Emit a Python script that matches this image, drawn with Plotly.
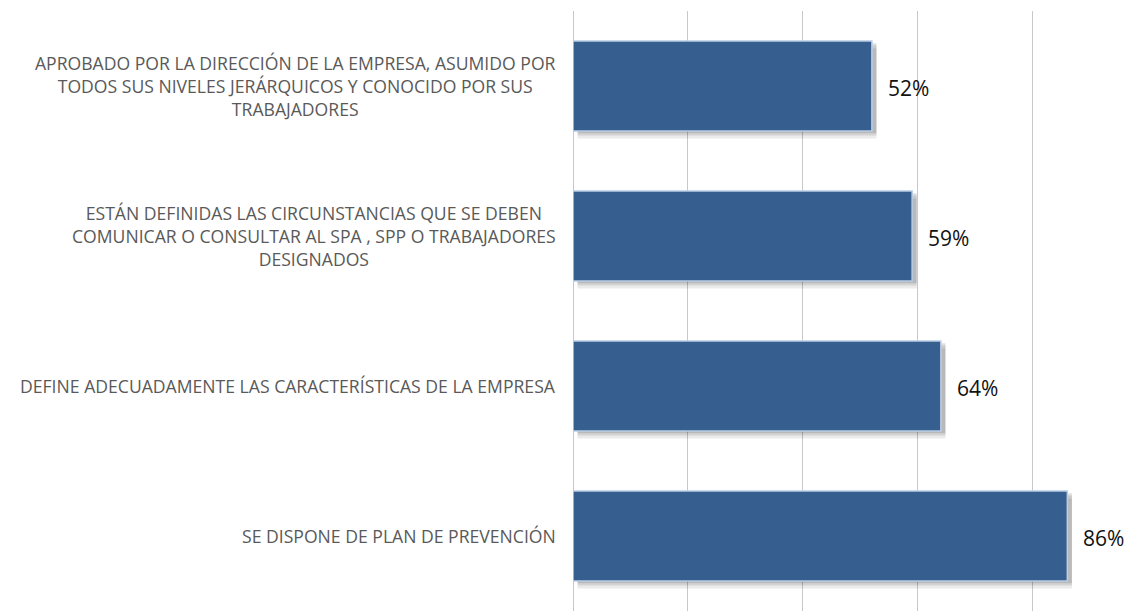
import plotly.graph_objects as go

categories = [
    "APROBADO POR LA DIRECCIÓN DE LA EMPRESA, ASUMIDO POR<br>TODOS SUS NIVELES JERÁRQUICOS Y CONOCIDO POR SUS<br>TRABAJADORES",
    "ESTÁN DEFINIDAS LAS CIRCUNSTANCIAS QUE SE DEBEN<br>COMUNICAR O CONSULTAR AL SPA , SPP O TRABAJADORES<br>DESIGNADOS",
    "DEFINE ADECUADAMENTE LAS CARACTERÍSTICAS DE LA EMPRESA",
    "SE DISPONE DE PLAN DE PREVENCIÓN",
]
values = [52, 59, 64, 86]

BAR = "#365E8F"
BORDER = "#B9CDE5"
GRID = "#C8C8C8"
LABEL_FONT = dict(family="Open Sans", size=17.6, color="#595959")

fig = go.Figure()
# soft drop shadow under each bar
for off, alpha in [(-0.25, 0.08), (-0.27, 0.10), (-0.285, 0.12)]:
    fig.add_trace(go.Bar(y=categories, x=values, orientation="h", base=0.8,
        width=0.6, offset=off, marker=dict(color=f"rgba(0,0,0,{alpha})", line=dict(width=0)),
        hoverinfo="skip", showlegend=False))
fig.add_trace(go.Bar(y=categories, x=values, orientation="h", width=0.6, offset=-0.3,
    marker=dict(color=BAR, line=dict(color=BORDER, width=1.5)), showlegend=False))

for cat, v in zip(categories, values):
    fig.add_annotation(x=0, xref="paper", y=cat, yref="y", text=cat, showarrow=False,
        xanchor="right", align="center", xshift=-16, borderpad=0, font=LABEL_FONT)
    fig.add_annotation(x=v, y=cat, text=f"{v}%", showarrow=False, xanchor="left",
        xshift=14, yshift=-2, font=dict(family="Open Sans", size=21, color="#111111"))

# page body has an 8px margin, so the figure is shrunk by that amount
fig.update_layout(width=1126, height=604, margin=dict(l=565, r=0, t=3, b=1),
    paper_bgcolor="white", plot_bgcolor="white", bargap=0.4,
    xaxis=dict(range=[0, 97.6], dtick=20, showticklabels=False, showgrid=True,
               gridcolor=GRID, gridwidth=1, zeroline=True, zerolinecolor=GRID,
               zerolinewidth=1, fixedrange=True),
    yaxis=dict(autorange="reversed", showticklabels=False, showgrid=False,
               fixedrange=True))
fig.write_html("out.html")
